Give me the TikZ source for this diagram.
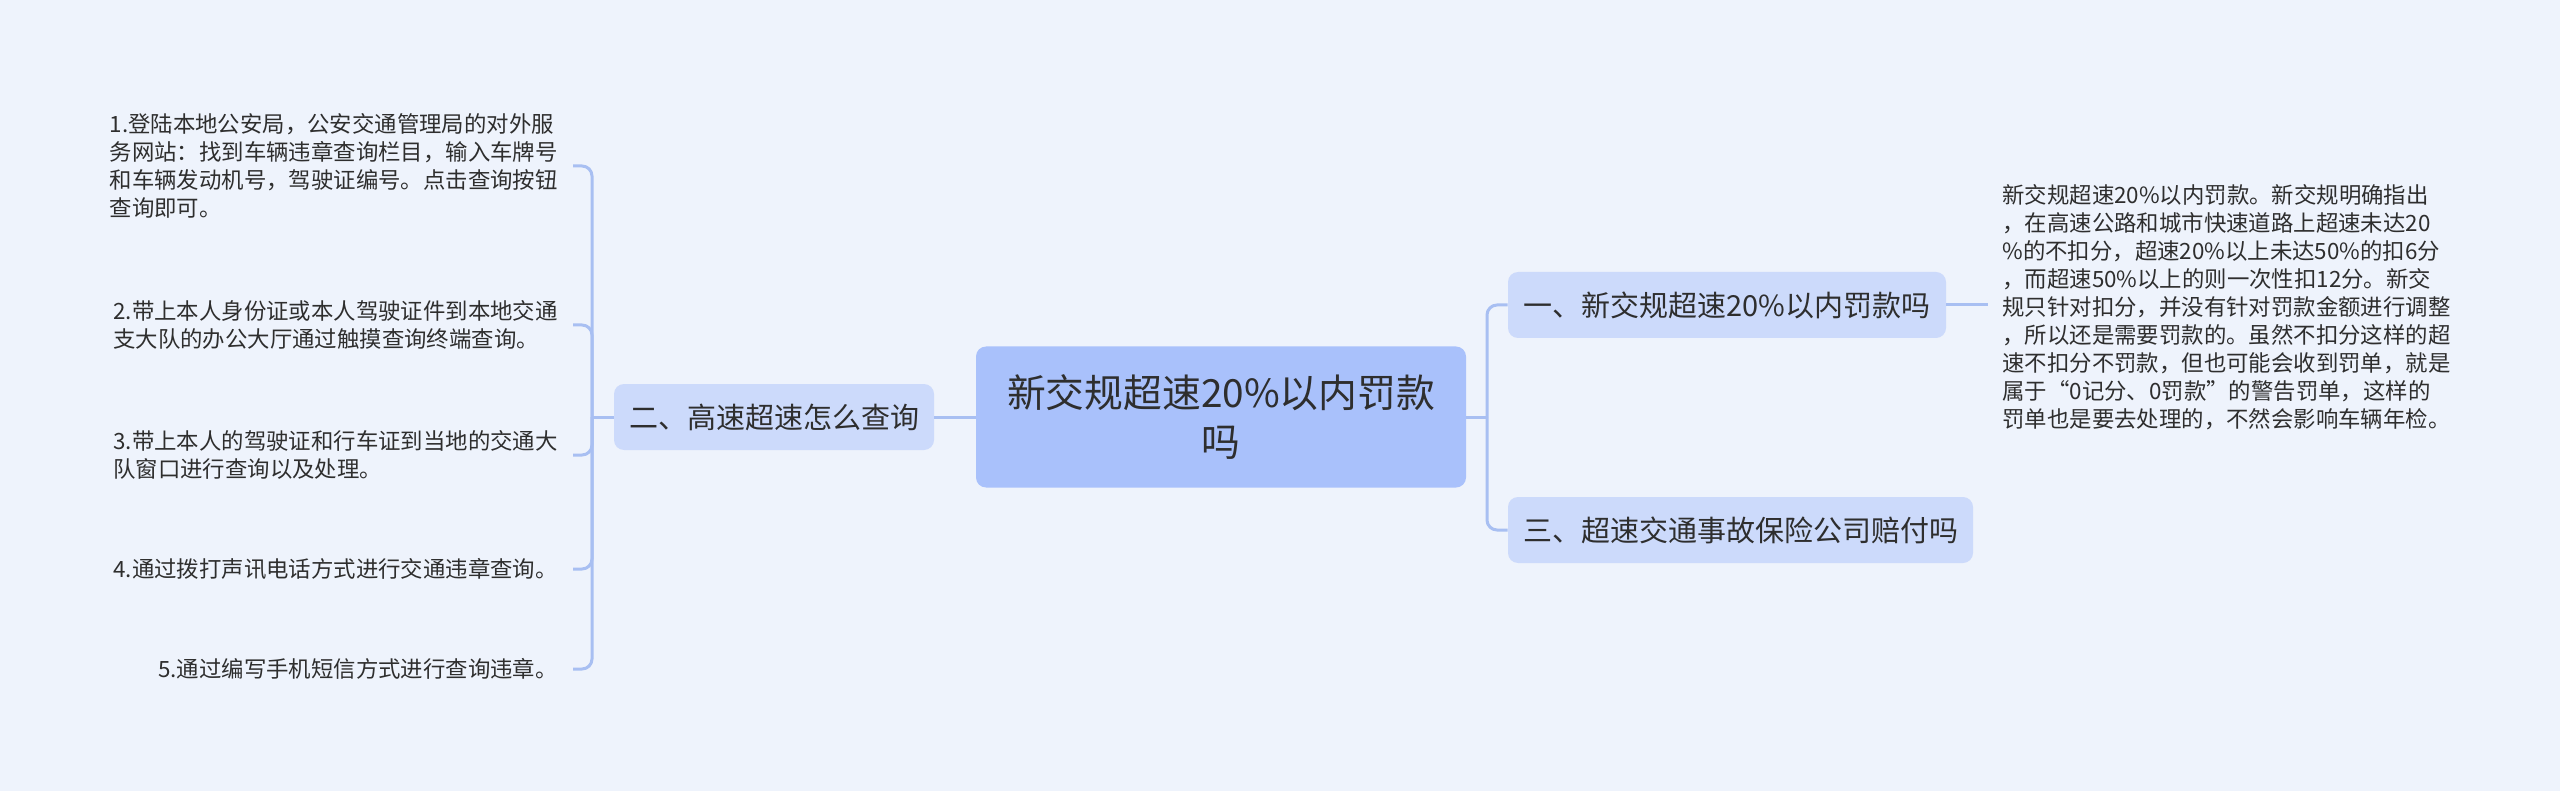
\documentclass[tikz,border=0pt]{standalone}
\usepackage{fontspec}
\setmainfont{Noto Sans CJK SC}
\definecolor{bg}{HTML}{EEF3FC}
\definecolor{mainc}{HTML}{A9C1FB}
\definecolor{subc}{HTML}{CCDAFB}
\definecolor{linec}{HTML}{A8BFF2}
\definecolor{txt}{HTML}{2E2E2E}
\begin{document}
\begin{tikzpicture}[x=0.5pt,y=-0.5pt,
  conn/.style={draw=linec, line width=1.5pt, rounded corners=5pt},
  centerbox/.style={fill=mainc, rounded corners=5pt, minimum width=245pt, minimum height=70.5pt,
    font=\fontsize{19.4}{24.5}\selectfont, align=center, text=txt, inner sep=0pt},
  subbox/.style={fill=subc, rounded corners=5pt, minimum height=33pt, inner xsep=7.5pt,
    font=\fontsize{14.5}{18}\selectfont, text=txt},
  leaf/.style={font=\fontsize{11.2}{14}\selectfont, inner sep=0pt, align=left, text=txt}]
\fill[bg] (0,0) rectangle (2560,791);
\useasboundingbox (0,0) rectangle (2560,791);

\node[centerbox] (C) at (1221,417) {新交规超速20\%以内罚款\\吗};
\node[subbox, minimum width=160pt] (L) at (774,417) {二、高速超速怎么查询};
\node[subbox, minimum width=219pt] (R1) at (1727,305) {一、新交规超速20\%以内罚款吗};
\node[subbox, minimum width=232.5pt] (R3) at (1740.5,530) {三、超速交通事故保险公司赔付吗};

\node[leaf, anchor=west] (T) at (2002,307) {新交规超速20\%以内罚款。新交规明确指出\\
，在高速公路和城市快速道路上超速未达20\\
\%的不扣分，超速20\%以上未达50\%的扣6分\\
，而超速50\%以上的则一次性扣12分。新交\\
规只针对扣分，并没有针对罚款金额进行调整\\
，所以还是需要罚款的。虽然不扣分这样的超\\
速不扣分不罚款，但也可能会收到罚单，就是\\
属于“0记分、0罚款”的警告罚单，这样的\\
罚单也是要去处理的，不然会影响车辆年检。};

\node[leaf, anchor=east] (A1) at (558,166) {1.登陆本地公安局，公安交通管理局的对外服\\
务网站：找到车辆违章查询栏目，输入车牌号\\
和车辆发动机号，驾驶证编号。点击查询按钮\\
查询即可。};
\node[leaf, anchor=east] (A2) at (558,325) {2.带上本人身份证或本人驾驶证件到本地交通\\
支大队的办公大厅通过触摸查询终端查询。};
\node[leaf, anchor=east] (A3) at (558,455) {3.带上本人的驾驶证和行车证到当地的交通大\\
队窗口进行查询以及处理。};
\node[leaf, anchor=east] (A4) at (558,569) {4.通过拨打声讯电话方式进行交通违章查询。};
\node[leaf, anchor=east] (A5) at (558,669) {5.通过编写手机短信方式进行查询违章。};

\coordinate (LJ) at (592,417);
\coordinate (RJ) at (1487,417);

\draw[conn] (C.west) -- (L.east);
\draw[conn] (L.west) -- (LJ);
\foreach \n in {A1,A2,A3,A4,A5}{
  \draw[conn] (LJ) |- ([xshift=7.5pt]\n.east);
}
\draw[conn] (C.east) -- (RJ);
\draw[conn] (RJ) |- (R1.west);
\draw[conn] (RJ) |- (R3.west);
\draw[conn] (R1.east) -- ([xshift=-7pt]R1.east -| T.west);
\end{tikzpicture}
\end{document}
